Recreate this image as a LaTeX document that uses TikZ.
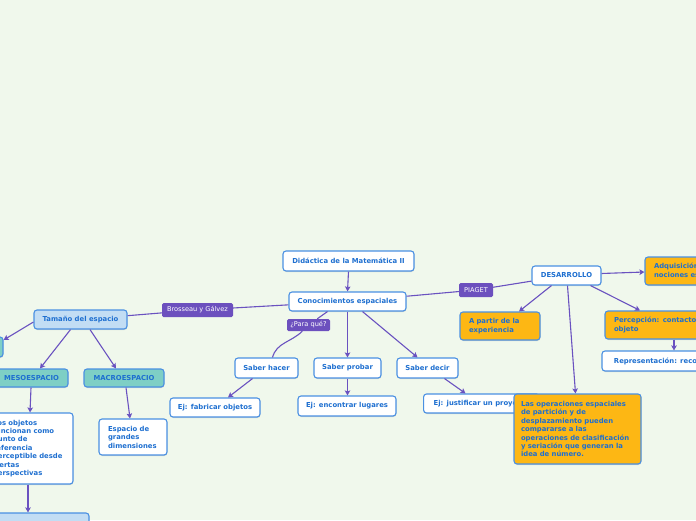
\documentclass[tikz,border=0pt]{standalone}
\usepackage{fontspec}
\newfontfamily\dv{DejaVu Sans}
\usetikzlibrary{arrows.meta,shadows}
\definecolor{bgc}{RGB}{240,248,236}
\definecolor{linec}{RGB}{106,82,192}
\definecolor{lblc}{RGB}{108,80,190}
\definecolor{bordc}{RGB}{74,144,226}
\definecolor{txtc}{RGB}{30,111,208}
\definecolor{orc}{RGB}{253,183,20}
\definecolor{lbc}{RGB}{194,221,244}
\definecolor{tlc}{RGB}{126,207,197}
\tikzset{
  bx/.style={rounded corners=3pt, draw=bordc, line width=1.1pt, text=txtc,
    font=\dv\bfseries\fontsize{6.85}{8.45}\selectfont, inner sep=0pt,
    drop shadow={shadow xshift=0.4pt, shadow yshift=-1pt, opacity=0.25}},
  wbx/.style={bx, fill=white},
  obx/.style={bx, fill=orc, align=left},
  lbbx/.style={bx, fill=lbc},
  tlbx/.style={bx, fill=tlc},
  lbl/.style={fill=lblc, rounded corners=1.5pt, text=white, inner sep=0pt,
    font=\dv\fontsize{6.6}{7.5}\selectfont},
  con/.style={draw=linec, line width=1.1pt},
  arr/.style={con, -{Stealth[length=5pt,width=5.5pt,inset=1pt]}},
}
\begin{document}
\begin{tikzpicture}[x=1pt,y=-1pt]
\useasboundingbox (0,0) rectangle (696,520);
\fill[bgc] (0,0) rectangle (696,520);
\clip (0,0) rectangle (696,520);

% nodes
\node[wbx, minimum width=131pt, minimum height=20pt] (did) at (348.5,261) {Didáctica de la Matemática II};
\node[wbx, minimum width=117pt, minimum height=19pt] (con) at (347.5,301.5) {Conocimientos espaciales};
\node[lbl, minimum width=34pt, minimum height=14pt] (piaget) at (476,290) {PIAGET};
\node[wbx, minimum width=69pt, minimum height=19pt] (des) at (566.5,275.5) {DESARROLLO};
\node[obx, minimum width=104pt, minimum height=28pt, text width=86pt] (adq) at (697,271) {Adquisición de\\nociones espaciales};
\node[obx, minimum width=80pt, minimum height=28pt, text width=62pt] (apa) at (500,326) {A partir de la\\experiencia};
\node[obx, minimum width=128pt, minimum height=28pt, text width=110pt] (per) at (669,325) {Percepción: contacto con el\\objeto};
\node[wbx, minimum width=150pt, minimum height=20pt] (rep) at (677,361) {Representación: reconocimiento};
\node[lbl, minimum width=71pt, minimum height=14pt] (bros) at (197.5,310) {Brosseau y Gálvez};
\node[lbbx, minimum width=93pt, minimum height=19pt] (tam) at (80.5,319.5) {Tamaño del espacio};
\node[tlbx, minimum width=80pt, minimum height=20pt] (mic) at (-37,347) {};
\node[tlbx, minimum width=73pt, minimum height=18pt] (meso) at (31.5,378) {MESOESPACIO};
\node[tlbx, minimum width=80pt, minimum height=18pt] (macro) at (124,378) {MACROESPACIO};
\node[lbl, minimum width=43pt, minimum height=12pt] (para) at (308.5,325) {¿Para qué?};
\node[wbx, minimum width=63pt, minimum height=20pt] (sh) at (266.5,368) {Saber hacer};
\node[wbx, minimum width=67pt, minimum height=20pt] (sp) at (347.5,368) {Saber probar};
\node[wbx, minimum width=61pt, minimum height=20pt] (sd) at (427.5,368) {Saber decir};
\node[wbx, minimum width=90pt, minimum height=19pt] (ejf) at (215,407.5) {Ej: fabricar objetos};
\node[wbx, minimum width=98pt, minimum height=20pt] (eje) at (347,406) {Ej: encontrar lugares};
\node[wbx, minimum width=116pt, minimum height=19pt, anchor=west] (ejj) at (423,403.5) {\hspace*{9pt}Ej: justificar un proyecto\hspace*{9pt}};
\node[obx, minimum width=127pt, minimum height=70pt, text width=113pt] (ops) at (577.5,429) {Las operaciones espaciales\\de partición y de\\desplazamiento pueden\\compararse a las\\operaciones de clasificación\\y seriación que generan la\\idea de número.};
\node[wbx, align=left, minimum width=68pt, minimum height=36pt, text width=50pt] (esp) at (133,437) {Espacio de\\grandes\\dimensiones};
\node[wbx, align=left, minimum width=87pt, minimum height=71pt, text width=73pt] (obj) at (29.5,448.5) {Los objetos\\funcionan como\\punto de\\referencia\\perceptible desde\\ciertas\\perspectivas};
\node[lbbx, minimum width=122pt, minimum height=34pt] (bot) at (28,530) {};

% connectors
\draw[arr] (did.south) -- (con.north);
\draw[con] (con) -- (piaget);
\draw[con] (piaget) -- (des);
\draw[con] (con) -- (bros);
\draw[con] (bros) -- (tam);
\draw[con] ([xshift=-20pt]con.south) -- (para);
\draw[con] (para) to[out=-135,in=75] ([xshift=6pt]sh.north);
\draw[arr] (con.south) -- (sp.north);
\draw[arr] ([xshift=15pt]con.south) -- ([xshift=-10pt]sd.north);
\draw[arr] ([xshift=-14pt]sh.south) -- ([xshift=13pt]ejf.north);
\draw[arr] (sp.south) -- ([xshift=0.5pt]eje.north);
\draw[arr] ([xshift=17pt]sd.south) -- ([xshift=-16pt]ejj.north);
\draw[arr] ([yshift=2pt]des.east) -- ([yshift=-1pt]adq.west);
\draw[arr] ([xshift=-15pt]des.south) -- ([xshift=19pt]apa.north);
\draw[arr] ([xshift=24pt]des.south) -- ([xshift=-29pt]per.north);
\draw[arr] ([xshift=1pt]des.south) -- ([xshift=-2pt]ops.north);
\draw[arr] ([xshift=5pt]per.south) -- ([xshift=-3pt]rep.north);
\draw[arr] ([yshift=-2.5pt]tam.west) -- ([yshift=7pt]mic.east);
\draw[arr] ([xshift=-10pt]tam.south) -- ([xshift=8.5pt]meso.north);
\draw[arr] ([xshift=9.5pt]tam.south) -- ([xshift=-8pt]macro.north);
\draw[arr] ([xshift=-0.5pt]meso.south) -- ([xshift=0.5pt]obj.north);
\draw[arr] ([xshift=2pt]macro.south) -- ([xshift=-3pt]esp.north);
\draw[arr] ([xshift=-1.5pt]obj.south) -- (bot.north);
\end{tikzpicture}
\end{document}
